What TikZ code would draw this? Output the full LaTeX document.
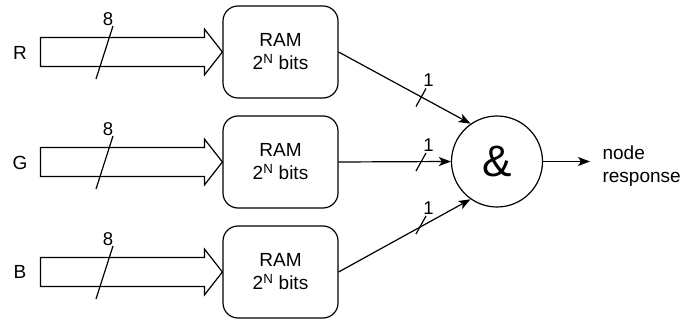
\documentclass[tikz,border=0pt]{standalone}
\usepackage{fontspec}
\setmainfont{Liberation Sans}
\usetikzlibrary{arrows.meta}
\begin{document}
\begin{tikzpicture}[x=1pt,y=-1pt, line width=1.2pt,
  ram/.style={draw, rounded corners=15pt, minimum width=115pt, minimum height=92pt,
    align=center, inner sep=0pt, font=\fontsize{19}{23}\selectfont},
  blockarrow/.style={draw, line join=miter},
  conn/.style={-{Stealth[length=12pt,width=9pt,inset=3pt]}},
  lbl/.style={font=\fontsize{19}{23}\selectfont, inner sep=0pt},
  bus/.style={font=\fontsize{18.5}{18.5}\selectfont, inner sep=0pt}]
\useasboundingbox (0,0) rectangle (685,320);

% input labels
\node[lbl] (inR) at (20,53) {R};
\node[lbl] (inG) at (20,163) {G};
\node[lbl] (inB) at (20,272) {B};

% RAM boxes
\node[ram] (ramR) at (280.5,52) {RAM\\2\textsuperscript{N} bits};
\node[ram] (ramG) at (280.5,162) {RAM\\2\textsuperscript{N} bits};
\node[ram] (ramB) at (280.5,272) {RAM\\2\textsuperscript{N} bits};

% block arrows
\foreach \b in {ramR,ramG,ramB}{
  \draw[blockarrow] (\b.west) -- ++(-18,-23) -- ++(0,8.5) -- ++(-164,0)
    -- ++(0,29) -- ++(164,0) -- ++(0,8.5) -- cycle;
}

% 8-bit bus slashes
\coordinate (iR) at (104.5,52.5);
\coordinate (iG) at (104.5,162.5);
\coordinate (iB) at (104.5,272.5);
\foreach \c in {iR,iG,iB}{
  \draw (\c) ++(-8.5,26.5) -- ++(17,-53);
  \node[bus] at ([shift={(3.5,-33.5)}]\c) {8};
}

% AND node
\node[circle, draw, minimum size=91pt, inner sep=0pt] (and) at (497,161.5)
  {\fontsize{44}{44}\selectfont\&};

% connectors
\draw[conn] (ramR.east) -- (and.125);
\draw[conn] (ramG.east) -- (and.west);
\draw[conn] (ramB.east) -- (and.235);

% 1-bit slashes
\coordinate (sR) at (421,97.5);
\coordinate (sG) at (421,162);
\coordinate (sB) at (421,225);
\foreach \c in {sR,sG,sB}{
  \draw (\c) ++(-5,9) -- ++(10,-18);
  \node[bus] at ([shift={(7.5,-17)}]\c) {1};
}

% output
\coordinate (outEnd) at (590,161.5);
\draw[conn] (and.east) -- (outEnd);
\node[lbl, anchor=west, align=left] (resp) at (602,166) {node\\response};
\end{tikzpicture}
\end{document}
